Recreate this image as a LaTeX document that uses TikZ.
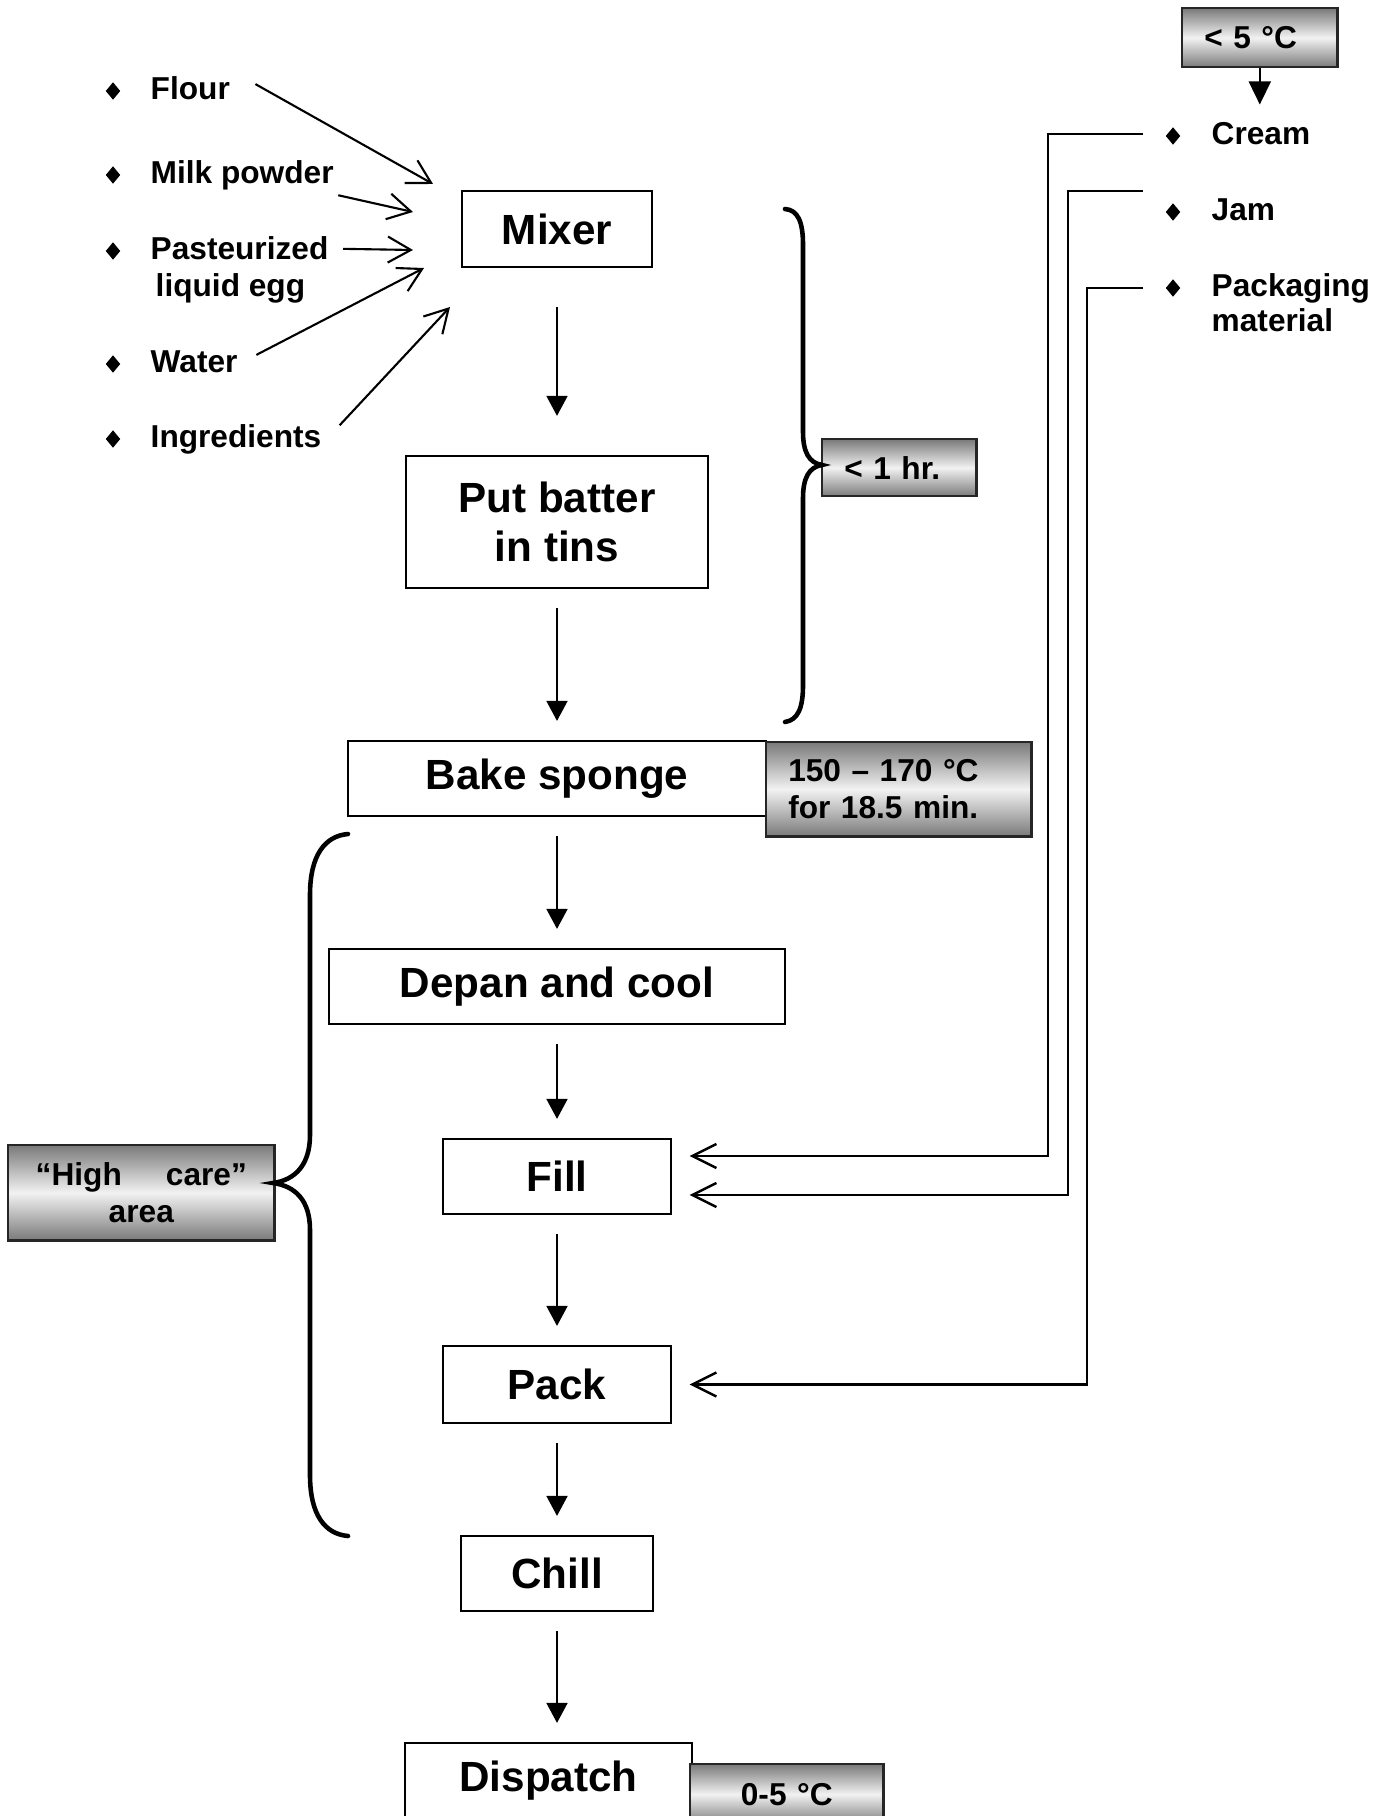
\documentclass[tikz,border=0pt]{standalone}
\usepackage{fontspec}
\setmainfont{Liberation Sans}
\usetikzlibrary{arrows.meta,shapes.geometric}
\definecolor{shadedark}{RGB}{122,122,122}
\definecolor{shadelight}{RGB}{242,242,242}

\tikzset{
  stepbox/.style={draw, line width=0.6pt, font=\fontsize{12}{14}\selectfont\bfseries,
    align=center, minimum height=0.75cm, inner sep=0pt},
  notebox/.style={draw=black!85, line width=0.7pt, top color=shadedark, bottom color=shadedark,
    middle color=shadelight, font=\fontsize{9}{10.5}\selectfont\bfseries,
    align=left, inner xsep=0.22cm, inner ysep=0pt},
  lbl/.style={font=\fontsize{9}{10.5}\selectfont\bfseries, inner sep=0.04cm, anchor=base west},
  bullet/.style={diamond, fill=black, inner sep=0pt, minimum width=0.15cm, minimum height=0.18cm},
  flow/.style={line width=0.5pt, -{Triangle[length=0.2cm,width=0.21cm]},
    shorten <=0.19cm, shorten >=0.19cm},
  feed/.style={line width=0.6pt, -{Straight Barb[length=0.23cm,width=0.26cm]}},
  supply/.style={line width=0.7pt, -{Straight Barb[length=0.24cm,width=0.24cm]}, shorten >=0.18cm},
  brace/.style={line width=1.3pt, line cap=round},
}

\begin{document}
\begin{tikzpicture}[x=0.01cm, y=-0.01cm]
  \useasboundingbox (0,0) rectangle (1389,1816);
  \clip (0,0) rectangle (1389,1816);
  % process steps
  \node[stepbox, minimum width=1.9cm, minimum height=0.76cm] (mixer) at (557,229) {Mixer};
  \node[stepbox, minimum width=3.02cm, minimum height=1.32cm] (batter) at (557,522) {Put batter\\in tins};
  \node[stepbox, minimum width=4.17cm] (bake) at (557,778.5) {Bake sponge};
  \node[stepbox, minimum width=4.55cm] (depan) at (557,986.5) {Depan and cool};
  \node[stepbox, minimum width=2.27cm] (fill) at (557,1176.5) {Fill};
  \node[stepbox, minimum width=2.27cm, minimum height=0.77cm] (pack) at (557,1384.5) {Pack};
  \node[stepbox, minimum width=1.92cm] (chill) at (557,1573.5) {Chill};
  \node[stepbox, minimum width=2.87cm, minimum height=0.76cm] (dispatch) at (548.5,1781) {Dispatch};
  \draw[flow, shorten <=0.39cm, shorten >=0.39cm] (mixer) -- (batter);
  \foreach \a/\b in {batter/bake, bake/depan, depan/fill, fill/pack, pack/chill}
    \draw[flow] (\a) -- (\b);
  \draw[flow] (chill) -- (chill |- dispatch.north);

  % shaded notes
  \node[notebox, text width=2.21cm, minimum height=0.94cm, anchor=north west] (bakenote) at (765,741)
    {150 – 170 °C\\for 18.5 min.};
  \node[notebox, text width=1.1cm, minimum height=0.57cm, anchor=north west] (hour) at (821,438) {< 1 hr.};
  \node[notebox, text width=1.11cm, minimum height=0.59cm, anchor=north west] (cold) at (1181,7) {< 5 °C};
  \node[notebox, align=center, text width=1.49cm, minimum height=0.6cm, anchor=north west] (chilled)
    at (689,1763) {0-5 °C};
  \node[notebox, align=center, text width=2.22cm, minimum height=0.95cm, anchor=north west] (care)
    at (7,1144) {\makebox[2.11cm]{“High\hfill care”}\\area};

  % ingredients into the mixer
  \node[lbl] (flour) at (146,100) {Flour};
  \node[lbl] (milk) at (146,184) {Milk powder};
  \node[lbl] (past) at (146,260) {Pasteurized};
  \node[lbl] (egg) at (151,297) {liquid egg};
  \node[lbl] (water) at (146,373) {Water};
  \node[lbl] (ingr) at (146,448) {Ingredients};
  \foreach \n/\y in {1/91,2/175,3/251,4/364,5/439}
    \node[bullet] (dotl\n) at (113,\y) {};
  \coordinate (tflour) at (433,184);
  \coordinate (tmilk) at (413,212);
  \coordinate (tpast) at (413,250);
  \coordinate (twater) at (424,268);
  \coordinate (tingr) at (450,307);
  \draw[feed, shorten <=0.24cm] (flour.north east) -- (tflour);
  \draw[feed] (milk.south east) -- (tmilk);
  \draw[feed, shorten <=0.1cm] (past.east) -- (tpast);
  \draw[feed, shorten <=0.16cm] (water.east) -- (twater);
  \draw[feed, shorten <=0.2cm] (ingr.east) -- (tingr);

  % fillings and packaging
  \node[lbl] (cream) at (1207,145) {Cream};
  \node[lbl] (jam) at (1207,221) {Jam};
  \node[lbl] (packg) at (1207,297) {Packaging};
  \node[lbl] (mat) at (1207,332) {material};
  \foreach \n/\y in {1/136,2/212,3/288}
    \node[bullet] (dotr\n) at (1173,\y) {};
  \draw[flow, shorten <=0pt, shorten >=0pt, -{Triangle[length=0.23cm,width=0.22cm]}]
    (cold.south) -- ++(0,36);
  \coordinate (creamin) at (1143,134);
  \coordinate (jamin) at (1143,191);
  \coordinate (packin) at (1143,288);
  \draw[supply] (creamin) -- ++(-95,0) |- ([yshift=0.205cm]fill.east);
  \draw[supply] (jamin) -- ++(-75,0) |- ([yshift=-0.185cm]fill.east);
  \draw[supply] (packin) -- ++(-56,0) |- (pack.east);

  % braces
  \draw[brace] (785,209) .. controls (798,210) and (803,222) .. (803,245) -- (803,432)
    .. controls (803,452) and (809,463) .. (822,465) .. controls (809,467) and (803,478) .. (803,498)
    -- (803,685) .. controls (803,708) and (798,720) .. (785,722);
  \draw[brace] (348,834) .. controls (325,836) and (310,855) .. (310,895) -- (310,1135)
    .. controls (310,1165) and (295,1180) .. (273,1183) .. controls (295,1186) and (310,1200) .. (310,1230)
    -- (310,1475) .. controls (310,1515) and (325,1534) .. (348,1536);
\end{tikzpicture}
\end{document}
